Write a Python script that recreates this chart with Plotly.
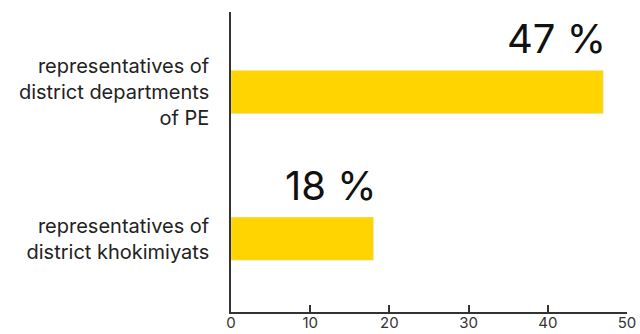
import plotly.graph_objects as go

categories = ["representatives of<br>district khokimiyats",
              "representatives of<br>district departments<br>of PE"]
values = [18, 47]
labels = ["18 %", "47 %"]

fig = go.Figure()
fig.add_trace(go.Bar(
    x=values, y=categories, orientation="h",
    marker=dict(color="#FFD400"), width=0.295,
))
for c, v, t in zip(categories, values, labels):
    fig.add_annotation(x=v, y=c, text=t, showarrow=False,
                       xanchor="right", yanchor="bottom", yshift=27,
                       xshift=5,
                       font=dict(family="Inter", size=40, color="#111111"))

fig.update_layout(
    width=640, height=334,
    margin=dict(l=231, r=13, t=12, b=22),
    paper_bgcolor="white", plot_bgcolor="white",
    showlegend=False,
    font=dict(family="Inter", color="#222222"),
)
fig.update_xaxes(range=[0, 50], tickvals=[0, 10, 20, 30, 40, 50],
                 showgrid=False, zeroline=False, showline=True,
                 linecolor="#333333", linewidth=1.5, automargin=False,
                 ticks="inside", ticklen=7, tickcolor="#333333", tickwidth=1.5,
                 ticklabelstandoff=-4,
                 tickfont=dict(size=15, color="#333333"))
fig.update_yaxes(showgrid=False, zeroline=False, showline=True,
                 linecolor="#333333", linewidth=1.5, ticks="", automargin=False,
                 ticklabelstandoff=16,
                 tickfont=dict(size=20, color="#222222"))
fig.write_html("out.html")
